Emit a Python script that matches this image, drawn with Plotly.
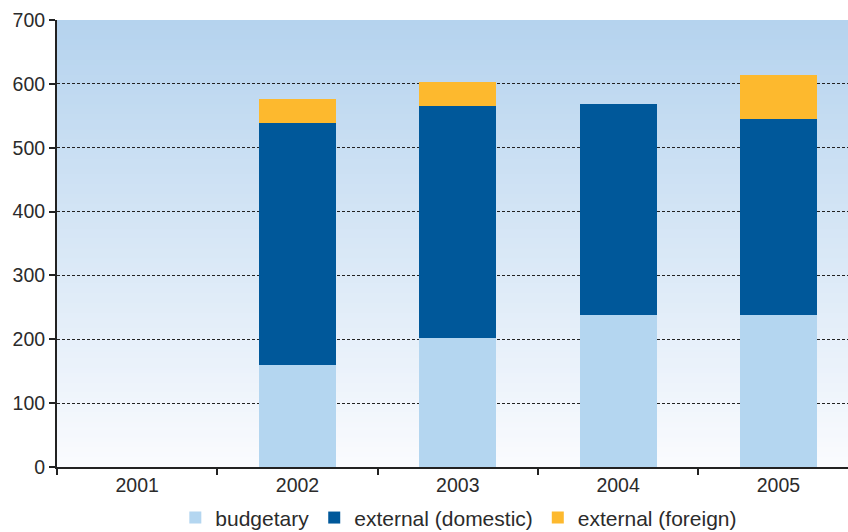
import plotly.graph_objects as go

# Funding by source, per year
years = ["2001", "2002", "2003", "2004", "2005"]
budgetary = [0, 160, 202, 238, 238]
external_domestic = [0, 379, 363, 330, 307]
external_foreign = [0, 37, 38, 0, 69]
y_ticks = [0, 100, 200, 300, 400, 500, 600, 700]
grid_vals = [100, 200, 300, 400, 500, 600]

FONT = "Liberation Sans, Arial, sans-serif"
TEXT = "#2b2b2b"

fig = go.Figure()
series = [
    ("budgetary", budgetary, "#b4d6f0"),
    ("external (domestic)", external_domestic, "#00589a"),
    ("external (foreign)", external_foreign, "#fdb92e"),
]
for name, vals, color in series:
    fig.add_trace(go.Bar(
        x=years, y=vals, name=name, width=0.48,
        marker=dict(color=color, line=dict(width=0)),
    ))

# vertical gradient behind the plot area (overlapping bands avoid seams)
top_rgb = (181, 211, 238)
bot_rgb = (250, 251, 254)
n = 90
shapes = []
for i in range(n):
    t = i / (n - 1)
    c = tuple(round(top_rgb[k] + (bot_rgb[k] - top_rgb[k]) * t) for k in range(3))
    shapes.append(dict(
        type="rect", xref="x domain", yref="y domain",
        x0=0, x1=1, y0=max(0, 1 - (i + 2) / n), y1=1 - i / n,
        fillcolor="rgb(%d,%d,%d)" % c, line=dict(width=0), layer="below",
    ))

fig.update_layout(
    width=848, height=532,
    margin=dict(l=57, r=0, t=20, b=65, autoexpand=False),
    paper_bgcolor="white", plot_bgcolor="white",
    barmode="stack",
    font=dict(family=FONT, size=19, color=TEXT),
    shapes=shapes,
    showlegend=True,
    legend=dict(
        orientation="h", x=0.508, xanchor="center", y=-0.068, yanchor="top",
        font=dict(size=21, color=TEXT), traceorder="normal",
        bgcolor="rgba(0,0,0,0)",
    ),
    xaxis=dict(
        range=[-0.5, 4.434], showgrid=False, tickson="boundaries",
        ticks="outside", ticklen=6, tickwidth=1.5, tickcolor="#222222",
        showline=True, linecolor="#222222", linewidth=2,
        tickfont=dict(size=19.5, color=TEXT),
    ),
    yaxis=dict(
        range=[0, 700], tickvals=y_ticks, showgrid=False, zeroline=False,
        ticks="outside", ticklen=6, tickwidth=1.5, tickcolor="#222222",
        showline=True, linecolor="#222222", linewidth=2,
        tickfont=dict(size=19.5, color=TEXT),
        minor=dict(tickmode="array", tickvals=grid_vals, showgrid=True,
                   gridcolor="#222222", gridwidth=1, griddash="3px,2px",
                   ticks=""),
    ),
)

fig.write_html("out.html")
